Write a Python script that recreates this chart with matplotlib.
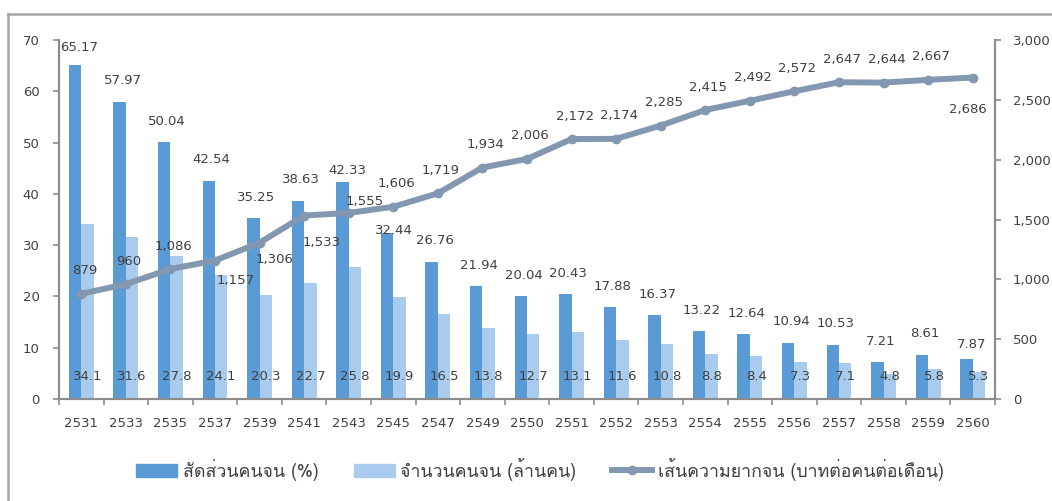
import numpy as np
import matplotlib
matplotlib.use("Agg")
import matplotlib.pyplot as plt
from matplotlib import font_manager
from matplotlib.ft2font import FT2Font
from matplotlib.lines import Line2D

years = ["2531", "2533", "2535", "2537", "2539", "2541", "2543", "2545", "2547", "2549", "2550",
         "2551", "2552", "2553", "2554", "2555", "2556", "2557", "2558", "2559", "2560"]
poor_ratio = [65.17, 57.97, 50.04, 42.54, 35.25, 38.63, 42.33, 32.44, 26.76, 21.94, 20.04,
              20.43, 17.88, 16.37, 13.22, 12.64, 10.94, 10.53, 7.21, 8.61, 7.87]
poor_people = [34.1, 31.6, 27.8, 24.1, 20.3, 22.7, 25.8, 19.9, 16.5, 13.8, 12.7,
               13.1, 11.6, 10.8, 8.8, 8.4, 7.3, 7.1, 4.8, 5.8, 5.3]
poverty_line = [879, 960, 1086, 1157, 1306, 1533, 1555, 1606, 1719, 1934, 2006,
                2172, 2174, 2285, 2415, 2492, 2572, 2647, 2644, 2667, 2686]
legend_labels = ["สัดส่วนคนจน (%)", "จำนวนคนจน (ล้านคน)", "เส้นความยากจน (บาทต่อคนต่อเดือน)"]

# label nudges in pixels (dx, dy) -- hand placed in the original
bar_lab_off = {0: (4, 17), 6: (5, 11), 7: (7, 2), 20: (5, 14)}
line_lab_off = {3: (21, -20), 4: (15, -17), 5: (17, -27), 6: (16, 11), 20: (-5, -32)}


def thai_family():
    # pick an installed font that actually has Thai glyphs
    for f in font_manager.fontManager.ttflist:
        try:
            if 0x0E2A in FT2Font(f.fname).get_charmap():
                return f.name
        except Exception:
            pass
    return None


fam = thai_family()
plt.rcParams['font.family'] = ['DejaVu Sans']
thai_fams = ([fam] if fam else []) + ['DejaVu Sans']

dark = "#5B9BD5"
light = "#A9CCEE"
line_col = "#8497B0"
txt = "#404040"
axis_col = "#8C8C8C"
fs = 9.5

fig = plt.figure(figsize=(10.52, 5.01), dpi=100)
ax = fig.add_axes([59 / 1052, 1 - 399 / 501, (995 - 59) / 1052, (399 - 40) / 501])
ax2 = ax.twinx()

x = np.arange(len(years))
w = 0.28
ax.bar(x - w / 2, poor_ratio, w, color=dark, zorder=2)
ax.bar(x + w / 2, poor_people, w, color=light, zorder=2)

for i in range(len(x)):
    dx, dy = bar_lab_off.get(i, (3, 21))
    ax.annotate(f"{poor_ratio[i]:.2f}", (x[i] - w / 2, poor_ratio[i]), xytext=(dx, dy),
                textcoords='offset pixels', ha='center', va='center', fontsize=fs, color=txt)
    ax.annotate(f"{poor_people[i]:.1f}", (x[i] + w / 2, 0), xytext=(0, 22),
                textcoords='offset pixels', ha='center', va='center', fontsize=fs, color=txt)

ax2.plot(x, poverty_line, color=line_col, lw=4.3, marker='o', ms=6, zorder=3)
for i in range(len(x)):
    dx, dy = line_lab_off.get(i, (3, 23))
    ax2.annotate(f"{poverty_line[i]:,}", (x[i], poverty_line[i]), xytext=(dx, dy),
                 textcoords='offset pixels', ha='center', va='center', fontsize=fs, color=txt)

ax.set_xlim(-0.5, len(x) - 0.5)
ax.set_ylim(0, 70)
ax2.set_ylim(0, 3000)
ax.set_yticks(range(0, 71, 10))
ax2.set_yticks(range(0, 3001, 500))
ax2.set_yticklabels([f"{v:,}" for v in range(0, 3001, 500)])

ax.set_xticks(x)
ax.set_xticklabels(years)
ax.set_xticks(np.arange(-0.5, len(x)), minor=True)
ax.tick_params(axis='x', which='major', length=0, pad=13, labelsize=fs, labelcolor=txt)
ax.tick_params(axis='x', which='minor', length=4, width=1.2, color=axis_col)
ax.tick_params(axis='y', length=4, width=1.2, color=axis_col, pad=10, labelsize=fs, labelcolor=txt)
ax2.tick_params(axis='y', length=4, width=1.2, color=axis_col, pad=9, labelsize=fs, labelcolor=txt)

for a in (ax, ax2):
    a.spines['top'].set_visible(False)
    for s in ('left', 'right', 'bottom'):
        a.spines[s].set_color(axis_col)
        a.spines[s].set_linewidth(1.5)

handles = [plt.Rectangle((0, 0), 1, 1, color=dark),
           plt.Rectangle((0, 0), 1, 1, color=light),
           Line2D([0], [0], color=line_col, lw=4.3, marker='o', ms=6)]
fig.legend(handles, legend_labels, loc='center', bbox_to_anchor=(0.5 + 14 / 1052, 1 - 469 / 501), ncol=3,
           frameon=False, prop={'family': thai_fams, 'size': 12.8}, handlelength=2.3,
           handleheight=0.75, handletextpad=0.3, columnspacing=2.0, labelcolor=txt)

# frame of the original screenshot
fig.add_artist(Line2D([8 / 1052, 1], [1 - 14 / 501, 1 - 14 / 501], color="#A6A6A6", lw=1.8))
fig.add_artist(Line2D([8 / 1052, 8 / 1052], [0, 1 - 14 / 501], color="#A6A6A6", lw=1.8))

fig.savefig("out.png", dpi=100)
